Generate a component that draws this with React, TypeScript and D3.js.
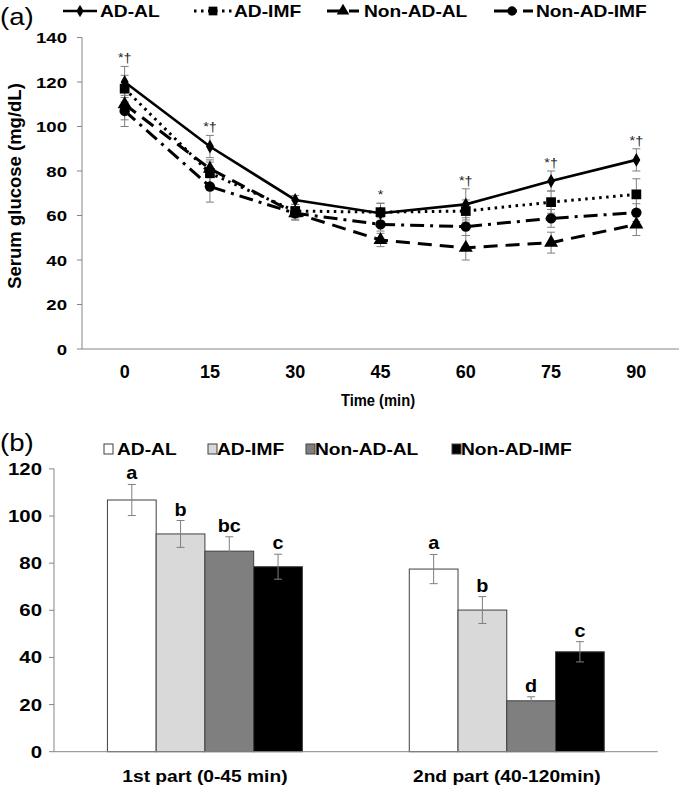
import React from 'react';
import * as d3 from 'd3';

// ---------- Data (a) ----------
const times = ['0', '15', '30', '45', '60', '75', '90'];
const seriesNames = ['AD-AL', 'AD-IMF', 'Non-AD-AL', 'Non-AD-IMF'];
const adAL = [120, 91, 67, 61, 65, 75.5, 85];
const adIMF = [117, 79, 62, 61.5, 62, 66, 69.5];
const nonAdAL = [110, 81, 61, 49, 45.5, 47.8, 56];
const nonAdIMF = [107, 73, 61, 56, 55, 58.7, 61.3];
const adALErr = [7, 5, 2, 4.5, 7, 4.5, 5];
const adIMFErr = [6, 5, 3, 4, 5, 5, 7];
const nonAdALErr = [7, 4, 3, 3, 5.5, 4.7, 5];
const nonAdIMFErr = [7, 7, 3, 3, 4, 4, 4];
const sigLabels = ['*†', '*†', '', '*', '*†', '*†', '*†'];
const yTicksA = [0, 20, 40, 60, 80, 100, 120, 140];

// ---------- Data (b) ----------
const parts = ['1st part (0-45 min)', '2nd part (40-120min)'];
const barAdAL = [106.8, 77.5];
const barAdIMF = [92.4, 60.1];
const barNonAdAL = [85.1, 21.6];
const barNonAdIMF = [78.5, 42.4];
const barAdALErr = [6.6, 6.2];
const barAdIMFErr = [5.7, 5.7];
const barNonAdALErr = [6.1, 1.7];
const barNonAdIMFErr = [5.3, 4.3];
const lettersAdAL = ['a', 'a'];
const lettersAdIMF = ['b', 'b'];
const lettersNonAdAL = ['bc', 'd'];
const lettersNonAdIMF = ['c', 'c'];
const yTicksB = [0, 20, 40, 60, 80, 100, 120];

const FONT = '"Liberation Sans", Arial, sans-serif';
const AXIS = '#868686';
const ERR = '#7f7f7f';

const T = ({ x, y, sx = 1.2, rot = 0, size = 15, weight = 'bold', anchor = 'start', fill = '#000', children }: any) => (
  <text
    transform={`translate(${x},${y}) scale(${sx},1)${rot ? ` rotate(${rot})` : ''}`}
    fontFamily={FONT}
    fontSize={size}
    fontWeight={weight}
    textAnchor={anchor}
    fill={fill}
  >
    {children}
  </text>
);

const lineSeries = [
  { name: seriesNames[0], v: adAL, e: adALErr, dash: null, width: 2.6, sym: d3.symbolDiamond, size: 55 },
  { name: seriesNames[1], v: adIMF, e: adIMFErr, dash: '2.5 4.5', width: 3, sym: d3.symbolSquare, size: 95 },
  { name: seriesNames[2], v: nonAdAL, e: nonAdALErr, dash: '14 8', width: 3, sym: d3.symbolTriangle, size: 85 },
  { name: seriesNames[3], v: nonAdIMF, e: nonAdIMFErr, dash: '14 6 3 6', width: 3, sym: d3.symbolCircle, size: 85 },
];

const barSeries = [
  { name: seriesNames[0], v: barAdAL, e: barAdALErr, l: lettersAdAL, fill: '#ffffff' },
  { name: seriesNames[1], v: barAdIMF, e: barAdIMFErr, l: lettersAdIMF, fill: '#d9d9d9' },
  { name: seriesNames[2], v: barNonAdAL, e: barNonAdALErr, l: lettersNonAdAL, fill: '#7f7f7f' },
  { name: seriesNames[3], v: barNonAdIMF, e: barNonAdIMFErr, l: lettersNonAdIMF, fill: '#000000' },
];

export default function App() {
  // ---------- scales (a) ----------
  const xA = d3.scaleBand<string>().domain(times).range([82, 679]).padding(0);
  const cx = (t: string) => (xA(t) as number) + xA.bandwidth() / 2;
  const yA = d3.scaleLinear().domain([0, 140]).range([349, 37.5]);
  const lineGen = (vals: number[]) =>
    d3.line<number>().x((_, i) => cx(times[i])).y((d) => yA(d))(vals) as string;

  // ---------- scales (b) ----------
  const xB = d3.scaleBand<string>().domain(parts).range([54, 657.7]).paddingInner(0.354).paddingOuter(0.177);
  const xBi = d3.scaleBand<string>().domain(seriesNames).range([0, xB.bandwidth()]).padding(0);
  const yB = d3.scaleLinear().domain([0, 120]).range([751.7, 468.9]);

  const legendA = [
    { x1: 63, x2: 97, m: 80, tx: 100 },
    { x1: 194, x2: 232, m: 213, tx: 234 },
    { x1: 327, x2: 359, m: 343, tx: 364 },
    { x1: 494, x2: 533, m: 512, tx: 536 },
  ];
  const legendB = [
    { sq: 104, tx: 117 },
    { sq: 208, tx: 217 },
    { sq: 306, tx: 315 },
    { sq: 452, tx: 461 },
  ];

  return (
    <svg
      width={684}
      height={789}
      style={{ position: 'absolute', left: 0, top: 0, background: '#fff' }}
    >
      <rect width={684} height={789} fill="#fff" />
      {/* ===== Panel (a) ===== */}
      <T x={0} y={25} size={24} weight="normal" sx={1.15}>(a)</T>
      {lineSeries.map((s, i) => {
        const L = legendA[i];
        return (
          <g key={s.name}>
            <line x1={L.x1} x2={L.x2} y1={11} y2={11} stroke="#000" strokeWidth={s.width} strokeDasharray={s.dash || undefined} />
            <path d={d3.symbol().type(s.sym).size(s.size * 0.8)() as string} transform={`translate(${L.m},11)`} fill="#000" />
            <T x={L.tx} y={17} size={16}>{s.name}</T>
          </g>
        );
      })}

      {/* y axis */}
      <line x1={82} x2={82} y1={yA(140)} y2={yA(0)} stroke={AXIS} />
      {yTicksA.map((t) => (
        <g key={t}>
          <line x1={77} x2={82} y1={yA(t)} y2={yA(t)} stroke={AXIS} />
          <T x={67} y={yA(t) + 5.5} anchor="end" size={15.5}>{t}</T>
        </g>
      ))}
      <line x1={82} x2={679} y1={yA(0)} y2={yA(0)} stroke={AXIS} />
      {times.map((t) => (
        <T key={t} x={cx(t)} y={378} anchor="middle" size={18} sx={1.0}>{t}</T>
      ))}
      <T x={378} y={406} anchor="middle" size={16} sx={0.92}>Time (min)</T>
      <T x={21} y={186} anchor="middle" size={18.5} sx={1.0} rot={-90}>Serum glucose (mg/dL)</T>

      {/* error bars */}
      {lineSeries.map((s) => (
        <g key={s.name + 'e'} stroke={ERR} strokeWidth={1}>
          {s.v.map((v, i) => {
            const x = cx(times[i]);
            return (
              <g key={i}>
                <line x1={x} x2={x} y1={yA(v - s.e[i])} y2={yA(v + s.e[i])} />
                <line x1={x - 4} x2={x + 4} y1={yA(v - s.e[i])} y2={yA(v - s.e[i])} />
                <line x1={x - 4} x2={x + 4} y1={yA(v + s.e[i])} y2={yA(v + s.e[i])} />
              </g>
            );
          })}
        </g>
      ))}
      {/* lines */}
      {lineSeries.map((s) => (
        <path key={s.name + 'l'} d={lineGen(s.v)} fill="none" stroke="#000" strokeWidth={s.width} strokeDasharray={s.dash || undefined} />
      ))}
      {/* markers */}
      {lineSeries.map((s) => (
        <g key={s.name + 'm'}>
          {s.v.map((v, i) => (
            <path key={i} d={d3.symbol().type(s.sym).size(s.size)() as string} transform={`translate(${cx(times[i])},${yA(v)})`} fill="#000" />
          ))}
        </g>
      ))}
      {/* significance */}
      {times.map((t, i) => {
        const top = Math.max(...lineSeries.map((s) => s.v[i] + s.e[i]));
        return sigLabels[i] ? (
          <T key={t + 's'} x={cx(t)} y={yA(top) - 4} anchor="middle" size={13} weight="normal" sx={1.1} fill="#222">
            {sigLabels[i]}
          </T>
        ) : null;
      })}

      {/* ===== Panel (b) ===== */}
      <T x={0} y={451} size={24} weight="normal" sx={1.15}>(b)</T>
      {barSeries.map((s, i) => {
        const L = legendB[i];
        return (
          <g key={s.name + 'lb'}>
            <rect x={L.sq} y={444} width={9} height={10} fill={s.fill} stroke="#404040" strokeWidth={1} />
            <T x={L.tx} y={455} size={16}>{s.name}</T>
          </g>
        );
      })}
      <line x1={54} x2={54} y1={yB(120)} y2={yB(0)} stroke={AXIS} />
      {yTicksB.map((t) => (
        <g key={t}>
          <line x1={49} x2={54} y1={yB(t)} y2={yB(t)} stroke={AXIS} />
          <T x={42} y={yB(t) + 6} anchor="end" size={17}>{t}</T>
        </g>
      ))}
      {parts.map((p) => (
        <g key={p}>
          {barSeries.map((s) => {
            const x = (xB(p) as number) + (xBi(s.name) as number);
            const w = xBi.bandwidth();
            const v = s.v[parts.indexOf(p)];
            const e = s.e[parts.indexOf(p)];
            const mx = x + w / 2;
            return (
              <g key={s.name}>
                <rect x={x} y={yB(v)} width={w} height={yB(0) - yB(v)} fill={s.fill} stroke="#404040" strokeWidth={1} />
                <g stroke={ERR} strokeWidth={1}>
                  <line x1={mx} x2={mx} y1={yB(v - e)} y2={yB(v + e)} />
                  <line x1={mx - 4} x2={mx + 4} y1={yB(v - e)} y2={yB(v - e)} />
                  <line x1={mx - 4} x2={mx + 4} y1={yB(v + e)} y2={yB(v + e)} />
                </g>
                <T x={mx} y={yB(v + e) - 5} anchor="middle" size={18} sx={1.1}>{s.l[parts.indexOf(p)]}</T>
              </g>
            );
          })}
          <T x={(xB(p) as number) + xB.bandwidth() / 2} y={782} anchor="middle" size={16}>{p}</T>
        </g>
      ))}
      <line x1={54} x2={657.7} y1={yB(0)} y2={yB(0)} stroke={AXIS} />
    </svg>
  );
}
